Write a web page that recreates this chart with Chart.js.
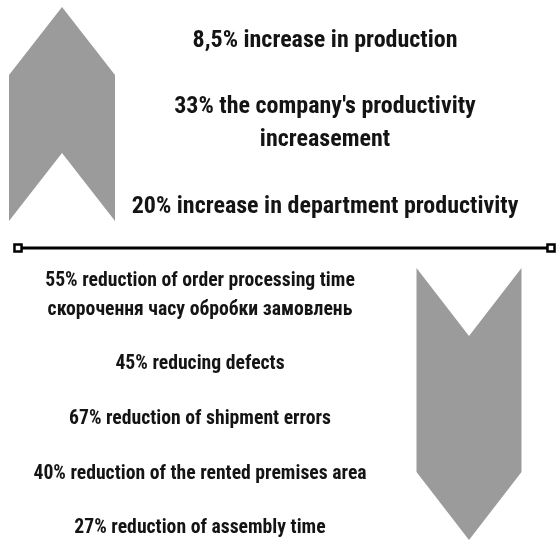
<!DOCTYPE html>
<html>
<head>
<meta charset="utf-8">
<script src="https://cdn.jsdelivr.net/npm/chart.js@4.4.1/dist/chart.umd.min.js"></script>
<style>
  html, body { margin: 0; padding: 0; background: #fff; }
  #wrap { width: 557px; height: 542px; position: relative; }
</style>
</head>
<body>
<div id="wrap"><canvas id="infoChart" width="557" height="542"></canvas></div>
<script>
// Increases (top block) and reductions (bottom block)
const increaseLines = [
    '8,5% increase in production',
    "33% the company's productivity",
    'increasement',
    '20% increase in department productivity'
];
const reductionLines = [
    '55% reduction of order processing time',
    'скорочення часу обробки замовлень',
    '45% reducing defects',
    '67% reduction of shipment errors',
    '40% reduction of the rented premises area',
    '27% reduction of assembly time'
];

// layout (chart units = px of the 557x542 frame)
const FONT = '"Liberation Sans Narrow", "Roboto Condensed", "DejaVu Sans Condensed", sans-serif';
const topBlock = { x: 325, baselines: [47, 113, 146, 213], size: 24 };
const bottomBlock = { x: 200, baselines: [286, 315, 369, 424, 479, 533], size: 19.7 };
const ARROW_GRAY = '#9b9b9b';

// chevron built from centre, top, width, height and notch depth
function chevron(cx, top, w, h, notch, pointsUp) {
    const l = cx - w / 2, r = cx + w / 2, b = top + h;
    if (pointsUp) {
        return [
            { x: l, y: top + notch }, { x: cx, y: top }, { x: r, y: top + notch },
            { x: r, y: b }, { x: cx, y: b - notch }, { x: l, y: b }, { x: l, y: top + notch }
        ];
    }
    return [
        { x: l, y: top }, { x: cx, y: top + notch }, { x: r, y: top },
        { x: r, y: b - notch }, { x: cx, y: b }, { x: l, y: b - notch }, { x: l, y: top }
    ];
}

const upArrow = chevron(62, 7, 106, 214, 68, true);
const downArrow = chevron(469, 268, 105, 272, 68, false);
const divider = [{ x: 18, y: 248 }, { x: 551, y: 248 }];

const textPlugin = {
    id: 'blockText',
    afterDatasetsDraw(chart) {
        const { ctx, scales: { x, y } } = chart;
        ctx.save();
        ctx.fillStyle = '#141414';
        ctx.textAlign = 'center';
        ctx.textBaseline = 'alphabetic';
        const drawBlock = (lines, block) => {
            ctx.font = `bold ${block.size}px ${FONT}`;
            lines.forEach((line, i) => {
                ctx.fillText(line, x.getPixelForValue(block.x), y.getPixelForValue(block.baselines[i]));
            });
        };
        drawBlock(increaseLines, topBlock);
        drawBlock(reductionLines, bottomBlock);
        ctx.restore();
    }
};

new Chart(document.getElementById('infoChart'), {
    type: 'scatter',
    data: {
        datasets: [
            {
                data: upArrow, showLine: true, fill: 'shape', tension: 0,
                backgroundColor: ARROW_GRAY, borderColor: ARROW_GRAY, borderWidth: 0, pointRadius: 0
            },
            {
                data: downArrow, showLine: true, fill: 'shape', tension: 0,
                backgroundColor: ARROW_GRAY, borderColor: ARROW_GRAY, borderWidth: 0, pointRadius: 0
            },
            {
                data: divider, showLine: true, tension: 0,
                borderColor: '#000', borderWidth: 3,
                pointStyle: 'rect', pointRadius: 5, pointBorderWidth: 2.5,
                pointBackgroundColor: '#fff', pointBorderColor: '#000'
            }
        ]
    },
    options: {
        responsive: false,
        animation: false,
        layout: { padding: 0, autoPadding: false },
        plugins: { legend: { display: false }, tooltip: { enabled: false } },
        scales: {
            x: { type: 'linear', min: 0, max: 557, display: false },
            y: { type: 'linear', min: 0, max: 542, reverse: true, display: false }
        }
    },
    plugins: [textPlugin]
});
</script>
</body>
</html>
